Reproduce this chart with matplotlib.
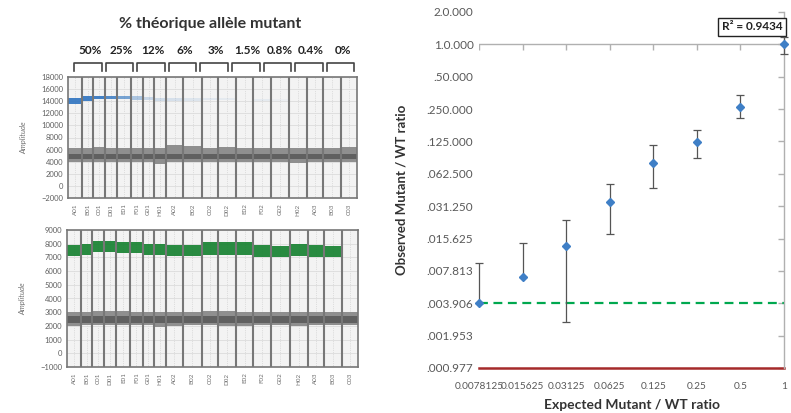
import numpy as np
import matplotlib.pyplot as plt
from matplotlib.markers import TICKDOWN, TICKLEFT

plt.rcParams["font.family"] = ["Lato", "DejaVu Sans"]

# ---- ddPCR wells (left panels) ----
wells = ["A01", "B01", "C01", "D01", "E01", "F01", "G01", "H01", "A02", "B02",
         "C02", "D02", "E02", "F02", "G02", "H02", "A03", "B03", "C03"]
well_events = [14, 11, 12, 12, 14, 12, 11, 12, 17, 19, 16, 18, 17, 18, 18, 18, 16, 18, 16]

# top channel (FAM, mutant) amplitudes
fam_neg_low = [4000, 4000, 4000, 4000, 4000, 4000, 3900, 3700, 4000, 4000,
               4000, 4000, 4000, 4000, 4000, 3800, 4000, 4000, 4000]
fam_neg_high = [6300, 6200, 6400, 6300, 6300, 6300, 6200, 6300, 6700, 6600,
                6300, 6400, 6300, 6300, 6300, 6200, 6300, 6300, 6400]
fam_core = (4400, 5200)
fam_pos_low = [13500, 14000, 14300, 14400, 14300, 14200, 14200, 14100, 14100, 14100,
               14200, 14200, 14200, 14100, 14100, 14200, 14200, 14200, 14200]
fam_pos_high = [14600, 14800, 14900, 14900, 14900, 14800, 14700, 14600, 14500, 14500,
                14500, 14500, 14500, 14400, 14400, 14400, 14400, 14400, 14400]
fam_pos_count = [80, 60, 50, 45, 35, 20, 12, 10, 8, 6, 5, 4, 0, 4, 2, 0, 0, 0, 0]

# bottom channel (HEX, wild type) amplitudes
hex_neg_low = [2000, 2100, 2100, 2100, 2100, 2100, 2100, 1900, 2000, 2100,
               2100, 2000, 2000, 2100, 2100, 2000, 2100, 2100, 2100]
hex_neg_high = [3000, 3000, 3100, 3100, 3100, 3000, 3000, 3000, 3000, 3000,
                3100, 3100, 3000, 3000, 3000, 3000, 3000, 3000, 3000]
hex_core = (2200, 2700)
hex_pos_low = [7100, 7200, 7400, 7400, 7300, 7300, 7200, 7200, 7100, 7100,
               7200, 7200, 7200, 7000, 7000, 7100, 7000, 7000, 0]
hex_pos_high = [7900, 8000, 8200, 8200, 8100, 8100, 8000, 8000, 7900, 7900,
                8100, 8100, 8100, 7900, 7800, 8000, 7900, 7800, 0]
hex_pos_count = [100, 100, 100, 100, 100, 100, 100, 100, 100, 100,
                 100, 100, 100, 100, 100, 100, 100, 100, 0]

pct_labels = ["50%", "25%", "12%", "6%", "3%", "1.5%", "0.8%", "0.4%", "0%"]

# ---- dilution series (right panel) ----
expected = [0.0078125, 0.015625, 0.03125, 0.0625, 0.125, 0.25, 0.5, 1]
observed = [0.003906, 0.0068, 0.0132, 0.034, 0.078, 0.1225, 0.264, 1.0]
err_upper = [0.0092, 0.0141, 0.0235, 0.050, 0.117, 0.161, 0.341, 1.18]
err_lower = [0.003906, 0.0068, 0.0026, 0.0174, 0.0458, 0.087, 0.205, 0.82]
lod_line = 0.003906
zero_line = 0.000977
r2_text = "R² = 0.9434"
x_labels = ["0.0078125", "0.015625", "0.03125", "0.0625", "0.125", "0.25", "0.5", "1"]
y_ticks = [0.000977, 0.001953, 0.003906, 0.007813, 0.015625, 0.03125,
           0.0625, 0.125, 0.25, 0.5, 1.0, 2.0]
y_labels = [".000.977", ".001.953", ".003.906", ".007.813", ".015.625", ".031.250",
            ".062.500", ".125.000", ".250.000", ".50.000", "1.0.000", "2.0.000"]

W, H = 791, 413
fig = plt.figure(figsize=(W / 100, H / 100), dpi=100)


def px_axes(x0, y0, x1, y1):
    return fig.add_axes([x0 / W, 1 - y1 / H, (x1 - x0) / W, (y1 - y0) / H])


edges = np.concatenate([[0], np.cumsum(well_events)])
centers = (edges[:-1] + edges[1:]) / 2


def droplet_panel(ax, ylim, yticks, neg_low, neg_high, core, pos_low, pos_high, pos_count, pos_color):
    ax.set_facecolor("#f3f3f3")
    ax.set_xlim(edges[0], edges[-1])
    ax.set_ylim(*ylim)
    ax.set_yticks(yticks)
    ax.grid(axis="y", color="#dcdcdc", lw=0.6)
    ax.set_axisbelow(True)
    for c in centers:
        ax.axvline(c, color="#c8c8c8", lw=0.5, ls=":", zorder=0.5)
    for i in range(len(wells)):
        xs = [edges[i], edges[i + 1]]
        ax.fill_between(xs, neg_low[i], neg_high[i], color="#8f8f8f", lw=0)
        ax.fill_between(xs, core[0], core[1], color="#606060", lw=0)
        if pos_count[i] > 0:
            a = min(1.0, pos_count[i] / 50) * 0.9
            ax.fill_between(xs, pos_low[i], pos_high[i], color=pos_color, alpha=a, lw=0)
    for e in edges[1:-1]:
        ax.axvline(e, color="#777777", lw=1.5, zorder=3)
    ax.set_xticks(centers)
    ax.set_xticklabels(wells, rotation=90, fontsize=4.5, color="#707070")
    ax.tick_params(axis="y", labelsize=5.5, colors="#606060", length=0)
    ax.tick_params(axis="x", length=0, pad=4)
    for s in ax.spines.values():
        s.set_color("#777777")
        s.set_linewidth(1.2)
    ax.set_ylabel("Amplitude", fontsize=5.5, color="#707070", style="italic", labelpad=10)


ax1 = px_axes(68, 77, 357, 198)
droplet_panel(ax1, (-2000, 18000), range(-2000, 18001, 2000), fam_neg_low, fam_neg_high, fam_core,
              fam_pos_low, fam_pos_high, fam_pos_count, "#2f74c0")

ax2 = px_axes(67, 230, 358, 367)
droplet_panel(ax2, (-1000, 9000), range(-1000, 9001, 1000), hex_neg_low, hex_neg_high, hex_core,
              hex_pos_low, hex_pos_high, hex_pos_count, "#13802e")

# title, percentages and brackets above the top panel
fig.text(210 / W, 1 - 24 / H, "% théorique allèle mutant", ha="center", va="center",
         fontsize=11.5, fontweight="bold", color="#333333")
bx0, bstep, bw = 74, 31.6, 27.5
for k, lab in enumerate(pct_labels):
    left = bx0 + k * bstep
    cx = left + bw / 2
    fig.text((cx + 2) / W, 1 - 51 / H, lab, ha="center", va="center",
             fontsize=8.5, fontweight="bold", color="#222222")
    fig.add_artist(plt.Line2D([left / W, left / W, (left + bw) / W, (left + bw) / W],
                              [1 - 71 / H, 1 - 63 / H, 1 - 63 / H, 1 - 71 / H],
                              color="#444444", lw=1.2))

# ---- right panel ----
ax3 = px_axes(479, 12, 784, 368)
ax3.set_xscale("log", base=2)
ax3.set_yscale("log", base=2)
ax3.set_xlim(expected[0], expected[-1])
ax3.set_ylim(y_ticks[0], y_ticks[-1])
for s in ["left", "top", "bottom"]:
    ax3.spines[s].set_visible(False)
ax3.spines["right"].set_color("#b0b0b0")
ax3.spines["right"].set_linewidth(1)
ax3.set_xticks(expected)
ax3.set_xticklabels(x_labels)
ax3.set_yticks(y_ticks)
ax3.set_yticklabels(y_labels)
ax3.minorticks_off()
ax3.tick_params(length=0, labelsize=8.5, colors="#595959")
ax3.tick_params(axis="x", pad=10, labelsize=7.3)
ax3.tick_params(axis="y", pad=4)

ax3.axhline(1.0, color="#b0b0b0", lw=1, zorder=1)
ax3.plot(expected[:-1], [1.0] * (len(expected) - 1), ls="none", marker=TICKDOWN,
         ms=4, mec="#b0b0b0", mew=1)
ax3.plot([expected[-1]] * len(y_ticks), y_ticks, ls="none", marker=TICKLEFT,
         ms=4, mec="#b0b0b0", mew=1, clip_on=False)

ax3.axhline(lod_line, color="#00a84f", lw=1.6, ls=(0, (4, 2.5)), zorder=2)
ax3.axhline(zero_line, color="#a52a2a", lw=1.8, zorder=2, clip_on=False)

obs = np.array(observed)
yerr = [obs - np.array(err_lower), np.array(err_upper) - obs]
ax3.errorbar(expected, observed, yerr=yerr, fmt="D", ms=4.5, color="#3f7fc6",
             ecolor="#555555", elinewidth=0.9, capsize=3, capthick=0.9,
             clip_on=False, zorder=4)

ax3.text(0.995, 0.958, r2_text, transform=ax3.transAxes, ha="right", va="center",
         fontsize=8.5, fontweight="bold", color="#222222",
         bbox=dict(boxstyle="square,pad=0.3", fc="white", ec="#222222", lw=1))

ax3.set_ylabel("Observed Mutant / WT ratio", fontsize=9.5, fontweight="bold",
               color="#333333", labelpad=14)
ax3.set_xlabel("Expected Mutant / WT ratio", fontsize=10, fontweight="bold",
               color="#333333", labelpad=6)

fig.savefig("out.png", dpi=100)
